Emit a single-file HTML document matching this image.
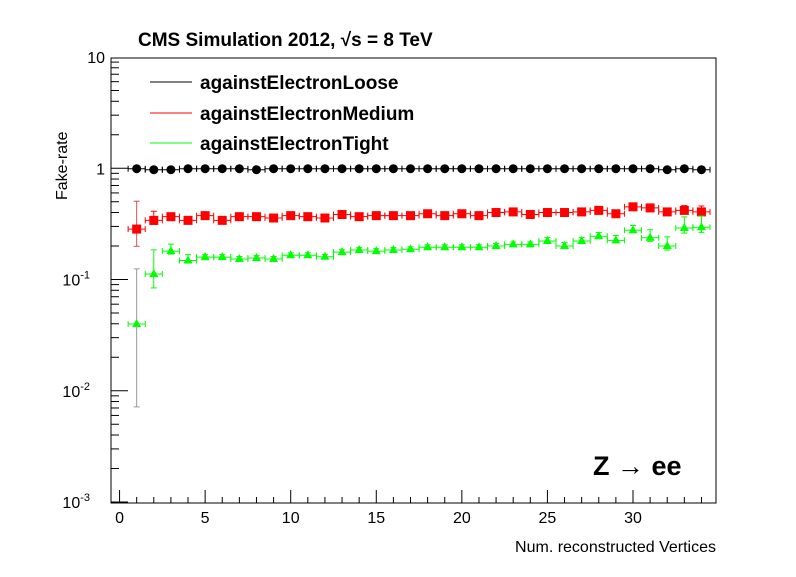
<!DOCTYPE html>
<html><head><meta charset="utf-8"><style>
body{margin:0;background:#fff;}
svg text{font-family:"Liberation Sans",Arial,sans-serif;}
</style></head><body>
<svg id="chart" width="796" height="572" viewBox="0 0 796 572" xmlns="http://www.w3.org/2000/svg">
<rect x="0" y="0" width="796" height="572" fill="#fff"/>
<g id="plot"></g>
<text x="138" y="46" font-size="19" font-weight="bold">CMS Simulation 2012,  √s = 8 TeV</text>
<text x="716" y="552" font-size="16" text-anchor="end">Num. reconstructed Vertices</text>
<text transform="translate(67,200) rotate(-90)" font-size="16">Fake-rate</text>
<text x="593" y="475" font-size="27" font-weight="bold">Z → ee</text>
<g>
<g><line x1="150" y1="82" x2="192" y2="82" stroke="#000"/><text x="200" y="89" font-size="19" font-weight="bold">againstElectronLoose</text></g>
<g><line x1="150" y1="113" x2="192" y2="113" stroke="#f00"/><text x="200" y="120" font-size="19" font-weight="bold">againstElectronMedium</text></g>
<g><line x1="150" y1="143" x2="192" y2="143" stroke="#0f0"/><text x="200" y="150" font-size="19" font-weight="bold">againstElectronTight</text></g>
</g>
</svg>
<script>
const categories=[1,2,3,4,5,6,7,8,9,10,11,12,13,14,15,16,17,18,19,20,21,22,23,24,25,26,27,28,29,30,31,32,33,34];
const looseValues=[0.99,0.97,0.97,0.99,0.99,0.99,0.99,0.97,0.99,0.99,0.99,0.99,0.99,0.99,0.99,0.99,0.99,0.99,0.99,0.99,0.99,0.99,0.99,0.99,0.99,0.99,0.99,0.99,0.99,0.99,0.99,0.97,0.99,0.97];
const mediumValues=[0.284,0.34,0.367,0.34,0.375,0.34,0.367,0.367,0.357,0.375,0.367,0.357,0.384,0.367,0.375,0.375,0.375,0.39,0.375,0.39,0.375,0.4,0.405,0.384,0.4,0.4,0.405,0.418,0.39,0.45,0.44,0.405,0.418,0.405];
const mediumErr=[0.3,0.08,0.02,0.02,0.01,0.01,0.01,0.01,0.01,0.01,0.01,0.01,0.01,0.01,0.01,0.01,0.01,0.01,0.01,0.01,0.01,0.01,0.01,0.01,0.01,0.01,0.01,0.01,0.01,0.02,0.02,0.03,0.04,0.05];
const tightValues=[0.0398,0.112,0.18,0.148,0.159,0.159,0.153,0.156,0.153,0.165,0.165,0.16,0.176,0.184,0.18,0.184,0.187,0.195,0.195,0.195,0.195,0.2,0.207,0.207,0.222,0.2,0.222,0.245,0.225,0.277,0.237,0.2,0.29,0.295];
const tightErr=[0.82,0.25,0.06,0.05,0.02,0.02,0.02,0.02,0.02,0.02,0.02,0.02,0.02,0.02,0.02,0.02,0.02,0.02,0.02,0.02,0.02,0.02,0.02,0.02,0.03,0.03,0.03,0.03,0.04,0.04,0.07,0.08,0.1,0.1];
const xTickLabels=[0,5,10,15,20,25,30];
const yTickLabels=[["10",null,10],["1",null,1],["10","-1",0.1],["10","-2",0.01],["10","-3",0.001]];

const NS="http://www.w3.org/2000/svg";
const L=111,R=716,T=58,B=503,X0=-0.5,X1=34.85;
const xs=v=>L+(v-X0)/(X1-X0)*(R-L);
const ys=v=>T+(1-Math.log10(v))*(B-T)/4-1;
const g=document.getElementById('plot');
function mk(tag,attrs,parent){const e=document.createElementNS(NS,tag);for(const k in attrs)e.setAttribute(k,attrs[k]);(parent||g).appendChild(e);return e;}

const frame=mk('rect',{x:L,y:T,width:R-L,height:B-T,fill:'none',stroke:'#000','stroke-width':1});



for(let i=0;i<=34;i++){const big=i%5===0;
 const t=mk('line',{x1:xs(i),x2:xs(i),y1:B,y2:B-(big?13:6),stroke:'#000'});
 
 }
xTickLabels.forEach(v=>{const t=mk('text',{x:xs(v),y:523,'font-size':16,'text-anchor':'middle'});t.textContent=v;
 
 });
for(let d=-3;d<1;d++){for(let m=1;m<=9;m++){const v=m*Math.pow(10,d);
 const t=mk('line',{x1:L,x2:L+(m===1?17:8),y1:ys(v),y2:ys(v),stroke:'#000'});
 
 }}
yTickLabels.forEach(a=>{const t=mk('text',{x:a[1]?90:105,y:ys(a[2])+6,'font-size':16,'text-anchor':'end'});
 t.textContent=a[0];
 if(a[1]){const s=mk('tspan',{dy:-7,'font-size':11},t);s.textContent=a[1];}
 
 });

function series(vals,err,color,shape,name,errColor){
 const grp=mk('g',{});
 
 
 vals.forEach((v,i)=>{const x=xs(categories[i]),y=ys(v),hw=(xs(1)-xs(0))/2;
  mk('line',{x1:x-hw,x2:x+hw,y1:y,y2:y,stroke:color},grp);
  mk('line',{x1:x-hw,x2:x-hw,y1:y-3,y2:y+3,stroke:color},grp);
  mk('line',{x1:x+hw,x2:x+hw,y1:y-3,y2:y+3,stroke:color},grp);
  if(err){const e=err[i];const lo=ys(v*(1-Math.min(e,0.83))),hi=ys(v*(1+e*2.6));
   const c=(i===0&&errColor)?errColor:color;
   mk('line',{x1:x,x2:x,y1:hi,y2:lo,stroke:c},grp);
   mk('line',{x1:x-3,x2:x+3,y1:hi,y2:hi,stroke:c},grp);
   mk('line',{x1:x-3,x2:x+3,y1:lo,y2:lo,stroke:c},grp);}
  let p;
  if(shape==='circle')p=mk('circle',{cx:x,cy:y,r:4.5,fill:color},grp);
  else if(shape==='square')p=mk('rect',{x:x-4.5,y:y-4.5,width:9,height:9,fill:color},grp);
  else p=mk('polygon',{points:`${x},${y-5} ${x-4.5},${y+3} ${x+4.5},${y+3}`,fill:color},grp);
  
  
 });
}
series(looseValues,null,'#000','circle','series-loose');
series(mediumValues,mediumErr,'#f00','square','series-medium','#c55');
series(tightValues,tightErr,'#0f0','triangle','series-tight','#999');
</script>
</body></html>
